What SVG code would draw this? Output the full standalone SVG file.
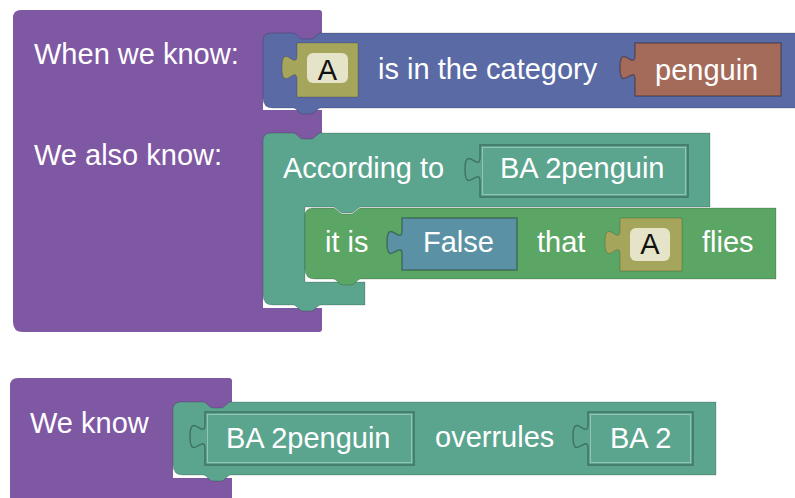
<svg xmlns="http://www.w3.org/2000/svg" width="795" height="498" viewBox="0 0 795 498">
<style>
text{font-family:"Liberation Sans",Arial,sans-serif;font-size:29px;fill:#fff}
text.dark{fill:#111}
.purple{fill:#7f58a3}
.blue{fill:#5a6aa5}
.teal{fill:#5ba58f}
.green{fill:#5ba565}
.steel{fill:#5b91a5}
.olive{fill:#a5a55b}
.brown{fill:#a56b5a}
.blk{stroke:#000;stroke-opacity:.18;stroke-width:1}
.val{stroke:#000;stroke-opacity:.3;stroke-width:1.5}
.hl{fill:none;stroke:#fff;stroke-opacity:.35;stroke-width:1}
.field{fill:#e6e4c8}
.gap{fill:#fff}
</style>
<rect width="795" height="498" fill="#fff"/>

<g id="when-block">
  <path class="purple" d="M13,18 Q13,10 21,10 H319 Q322,10 322,13 V329 Q322,332 319,332 H23 Q13,332 13,322 Z"/>
  <rect class="gap" x="263" y="95" width="59" height="15"/>
  <rect class="gap" x="263" y="293" width="59" height="15"/>
  <text x="34" y="64">When we know:</text>
  <text x="34" y="165">We also know:</text>
</g>

<g id="category-block">
  <path class="blue blk" d="M263,41 Q263,33 271,33 H293 C297,33 299,39 303,39 H311 C315,39 317,33 321,33 H800 V108 H321 C317,108 315,114 311,114 H303 C299,114 297,108 293,108 H273 Q263,108 263,98 Z"/>
  <text x="378" y="79">is in the category</text>
</g>

<g id="var-a-1">
  <path class="olive blk" d="M297,43 V55 C297,71.7 282,41.7 282,67.5 C282,93.3 297,63.3 297,80 V97 H358 V43 Z"/>
  <rect class="field" x="307" y="53" width="41" height="30" rx="6"/>
  <text class="dark" x="327.5" y="80" text-anchor="middle">A</text>
</g>

<g id="penguin-block">
  <path class="brown val" d="M635,43 V55 C635,71.7 620,41.7 620,67.5 C620,93.3 635,63.3 635,80 V96 H781 V43 Z"/>
  <text x="655" y="80">penguin</text>
</g>

<g id="according-block">
  <rect class="gap" x="305" y="207" width="65" height="75"/>
  <path class="teal blk" d="M263,141 Q263,133 271,133 H293 C297,133 299,139 303,139 H311 C315,139 317,133 321,133 H710 V207 H361 C357,207 355,213 351,213 H343 C339,213 337,207 333,207 H305 V282 H365 V305 H321 C317,305 315,311 311,311 H303 C299,311 297,305 293,305 H273 Q263,305 263,295 Z"/>
  <text x="283" y="178">According to</text>
</g>

<g id="source-block-1">
  <path class="teal val" d="M480,145 V157 C480,173.7 465,143.7 465,169.5 C465,195.3 480,165.3 480,182 V197 H688 V145 Z"/>
  <rect class="hl" x="482.5" y="147.5" width="203" height="47"/>
  <text x="500" y="178">BA 2penguin</text>
</g>

<g id="itis-block">
  <path class="green blk" d="M305,216 Q305,208 313,208 H333 C337,208 339,214 343,214 H351 C355,214 357,208 361,208 H776 V279 H361 C357,279 355,285 351,285 H343 C339,285 337,279 333,279 H315 Q305,279 305,269 Z"/>
  <text x="325" y="252">it is</text>
  <text x="537" y="252">that</text>
  <text x="702" y="252">flies</text>
</g>

<g id="false-block">
  <path class="steel val" d="M402,218 V230 C402,246.7 387,216.7 387,242.5 C387,268.3 402,238.3 402,255 V270 H517 V218 Z"/>
  <text x="423" y="252">False</text>
</g>

<g id="var-a-2">
  <path class="olive blk" d="M620,218 V230 C620,246.7 605,216.7 605,242.5 C605,268.3 620,238.3 620,255 V271 H682 V218 Z"/>
  <rect class="field" x="630" y="228" width="40" height="33" rx="6"/>
  <text class="dark" x="650" y="254" text-anchor="middle">A</text>
</g>

<g id="weknow-block">
  <path class="purple" d="M10,386 Q10,378 18,378 H229 Q232,378 232,381 V505 H10 Z"/>
  <rect class="gap" x="173" y="463" width="59" height="15"/>
  <text x="30" y="433">We know</text>
</g>

<g id="overrules-block">
  <path class="teal blk" d="M173,410 Q173,402 181,402 H203 C207,402 209,408 213,408 H221 C225,408 227,402 231,402 H716 V475 H231 C227,475 225,481 221,481 H213 C209,481 207,475 203,475 H183 Q173,475 173,465 Z"/>
  <text x="435" y="447">overrules</text>
</g>

<g id="source-block-2">
  <path class="teal val" d="M205,412 V424 C205,440.7 190,410.7 190,436.5 C190,462.3 205,432.3 205,449 V465 H414 V412 Z"/>
  <rect class="hl" x="207.5" y="414.5" width="204" height="48"/>
  <text x="226" y="448">BA 2penguin</text>
</g>

<g id="source-block-3">
  <path class="teal val" d="M588,412 V424 C588,440.7 573,410.7 573,436.5 C573,462.3 588,432.3 588,449 V465 H693 V412 Z"/>
  <rect class="hl" x="590.5" y="414.5" width="100" height="48"/>
  <text x="610" y="448">BA 2</text>
</g>
</svg>
